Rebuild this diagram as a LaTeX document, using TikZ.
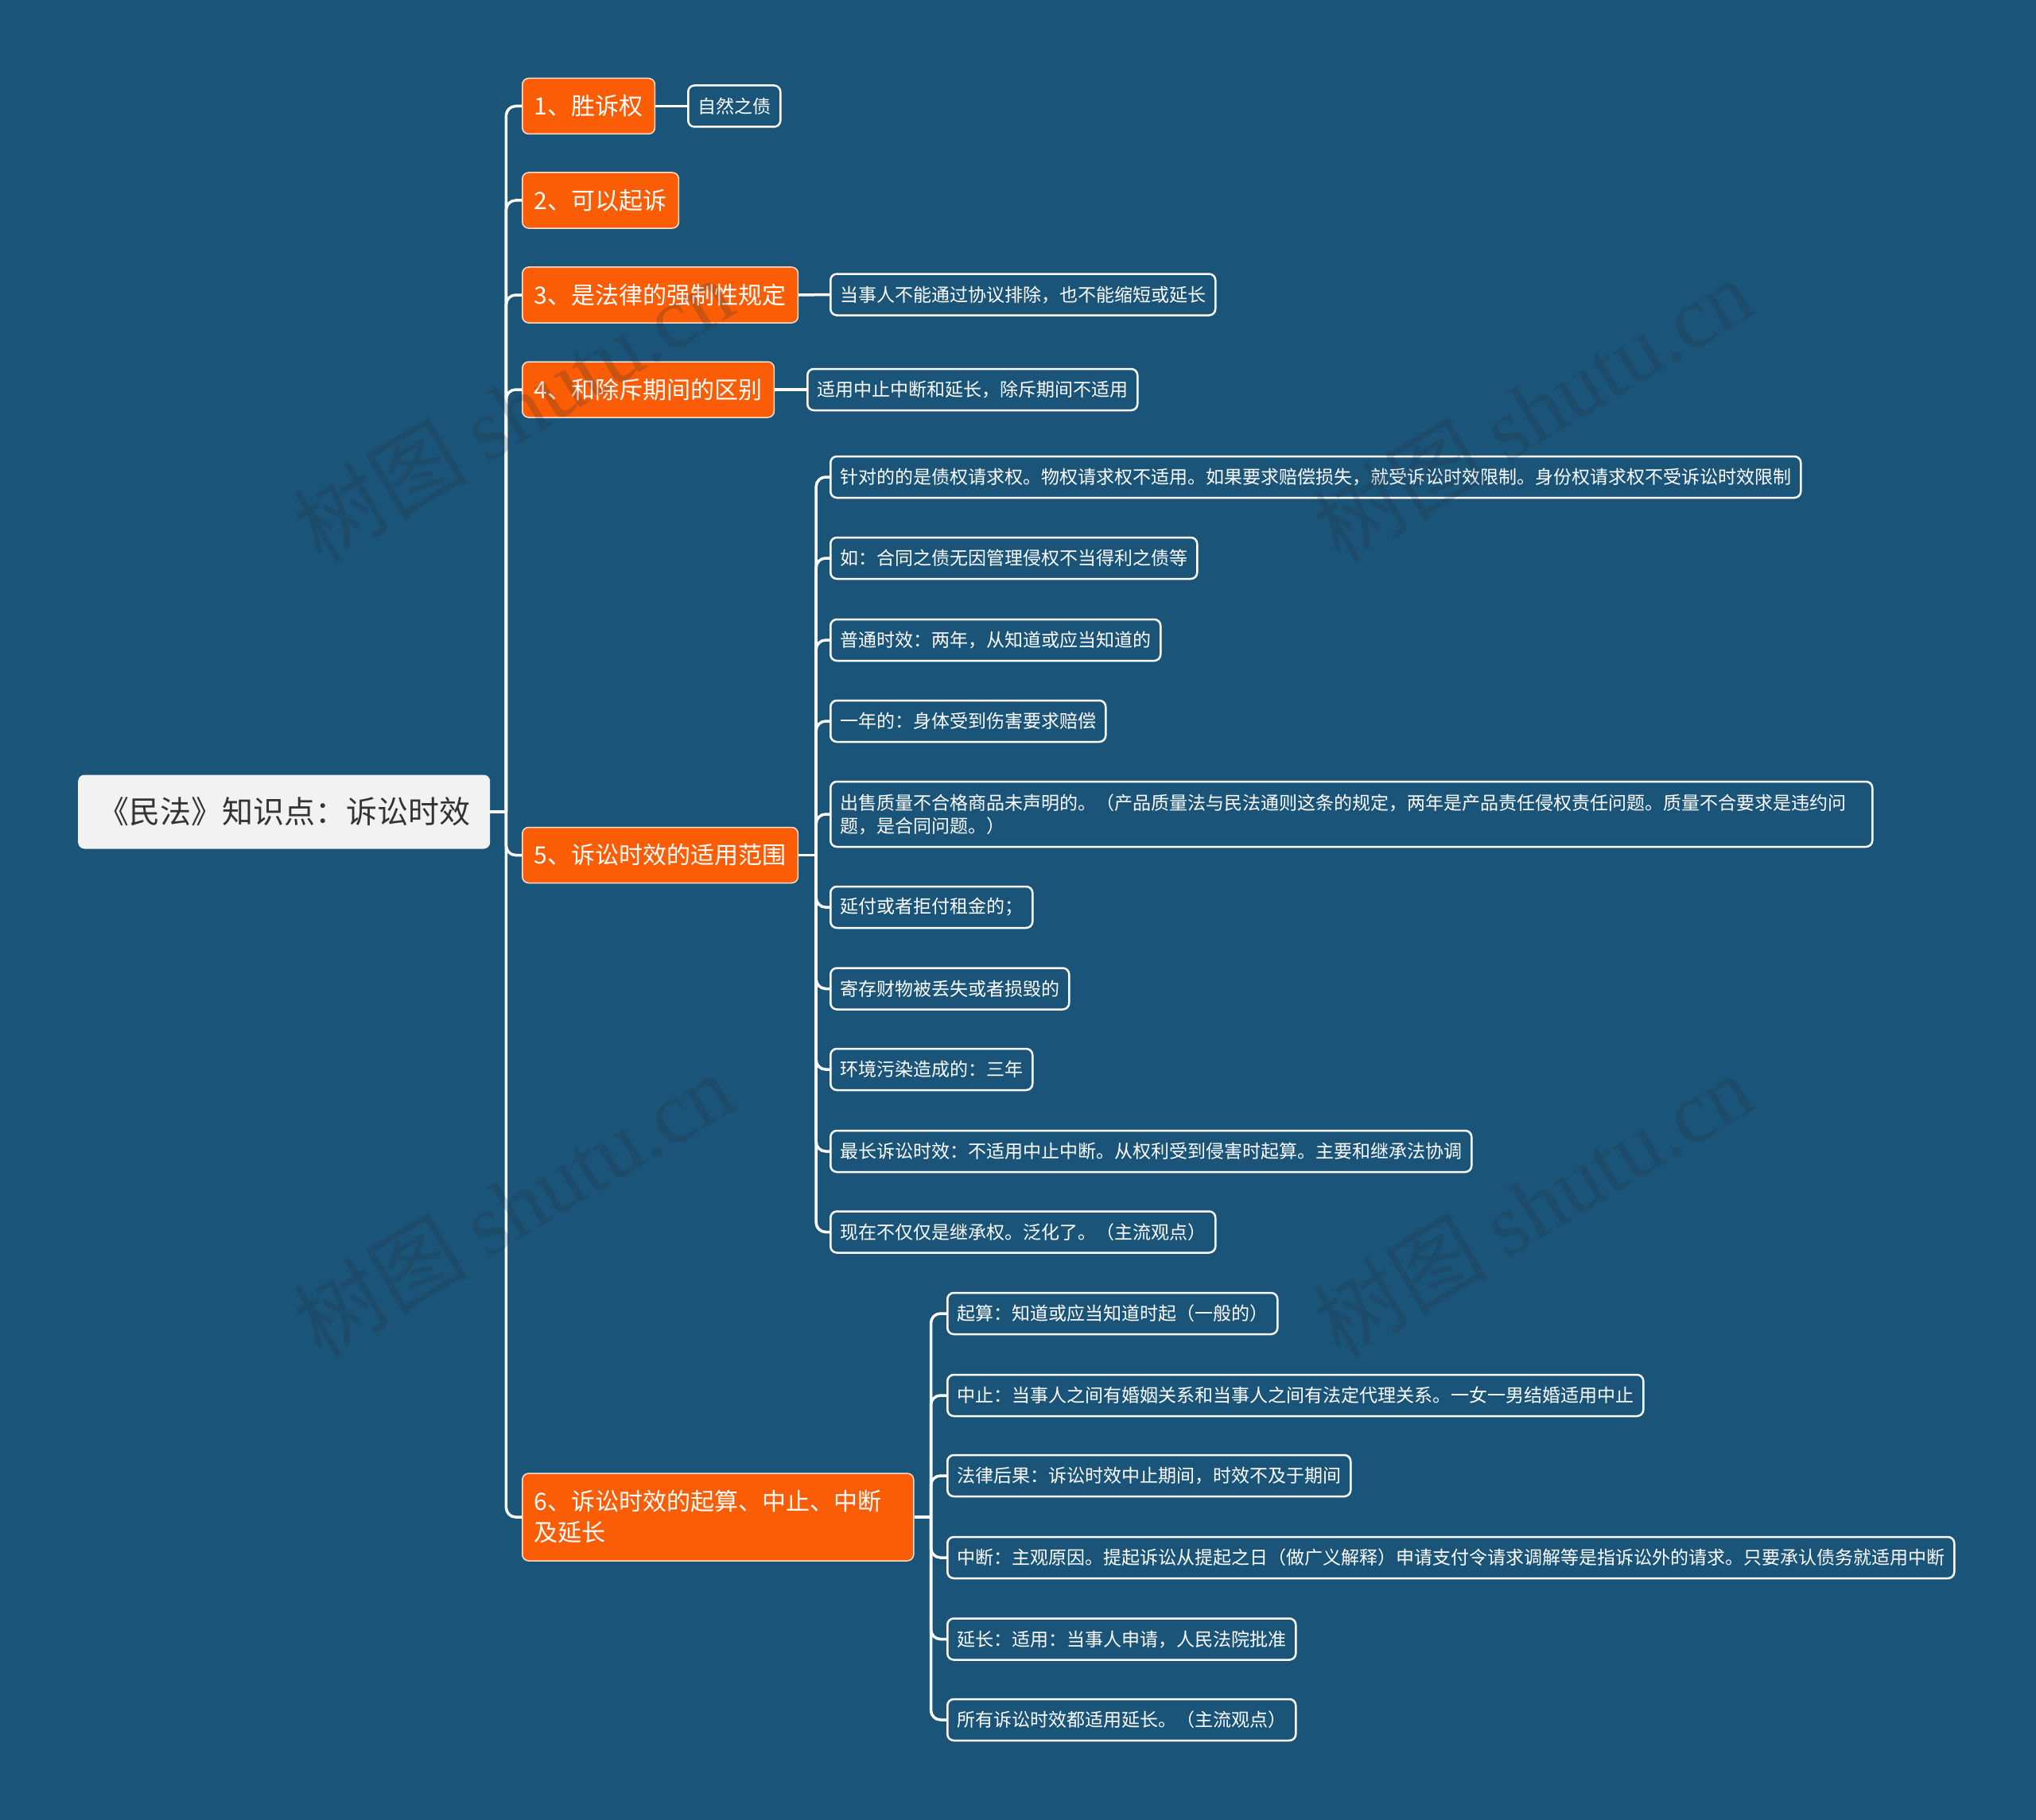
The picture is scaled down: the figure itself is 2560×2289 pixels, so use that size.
\documentclass[tikz,border=0pt]{standalone}
\usepackage{fontspec}
\setmainfont{Noto Sans CJK SC}
\newfontfamily\wmfont{Liberation Serif}
\definecolor{bgc}{RGB}{26,84,120}
\definecolor{orng}{RGB}{250,93,5}
\definecolor{rootfill}{RGB}{242,242,242}
\definecolor{roottext}{RGB}{51,51,51}
\definecolor{wmcol}{RGB}{40,48,58}
\tikzset{
  rootbox/.style={fill=rootfill, text=roottext, rounded corners=8bp, minimum height=93bp, inner xsep=25bp, font=\fontsize{39bp}{46bp}\selectfont, anchor=west},
  branchbox/.style={fill=orng, draw=white!80!orng, line width=1.5bp, text=white, rounded corners=8bp, minimum height=70bp, inner xsep=15bp, font=\fontsize{30bp}{39bp}\selectfont, anchor=west},
  leafbox/.style={draw=white, line width=2.5bp, text=white, rounded corners=8bp, minimum height=52bp, inner xsep=12bp, font=\fontsize{23bp}{29bp}\selectfont, anchor=west},
  conn/.style={draw=white, line width=3.5bp, rounded corners=12bp},
  wm/.style={text=wmcol, opacity=0.22, font=\fontsize{110bp}{110bp}\selectfont, rotate=31}
}
\begin{document}
\begin{tikzpicture}[x=1bp,y=-1bp]
\useasboundingbox[fill=bgc] (0,0) rectangle (2560,2289);

% root
\node[rootbox] (root) at (98,1021) {《民法》知识点：诉讼时效};

% branches
\node[branchbox] (b1) at (656,133.5) {1、胜诉权};
\node[branchbox] (b2) at (656,252) {2、可以起诉};
\node[branchbox] (b3) at (656,371) {3、是法律的强制性规定};
\node[branchbox] (b4) at (656,490) {4、和除斥期间的区别};
\node[branchbox] (b5) at (656,1075.5) {5、诉讼时效的适用范围};
\node[branchbox, minimum height=110bp, text width=462bp, align=left] (b6) at (656,1908) {6、诉讼时效的起算、中止、中断\\及延长};

% leaves of 1,3,4
\node[leafbox] (l1) at (864,133.5) {自然之债};
\node[leafbox] (l3) at (1043,370.5) {当事人不能通过协议排除，也不能缩短或延长};
\node[leafbox] (l4) at (1014,490) {适用中止中断和延长，除斥期间不适用};

% leaves of 5
\node[leafbox] (c1) at (1043,600) {针对的的是债权请求权。物权请求权不适用。如果要求赔偿损失，就受诉讼时效限制。身份权请求权不受诉讼时效限制};
\node[leafbox] (c2) at (1043,702) {如：合同之债无因管理侵权不当得利之债等};
\node[leafbox] (c3) at (1043,805) {普通时效：两年，从知道或应当知道的};
\node[leafbox] (c4) at (1043,907) {一年的：身体受到伤害要求赔偿};
\node[leafbox, minimum height=82bp, text width=1286bp, align=left] (c5) at (1043,1024) {出售质量不合格商品未声明的。（产品质量法与民法通则这条的规定，两年是产品责任侵权责任问题。质量不合要求是违约问\\题，是合同问题。）};
\node[leafbox] (c6) at (1043,1141) {延付或者拒付租金的；};
\node[leafbox] (c7) at (1043,1243.5) {寄存财物被丢失或者损毁的};
\node[leafbox] (c8) at (1043,1345) {环境污染造成的：三年};
\node[leafbox] (c9) at (1043,1448) {最长诉讼时效：不适用中止中断。从权利受到侵害时起算。主要和继承法协调};
\node[leafbox] (c10) at (1043,1549.5) {现在不仅仅是继承权。泛化了。（主流观点）};

% leaves of 6
\node[leafbox] (d1) at (1190,1652) {起算：知道或应当知道时起（一般的）};
\node[leafbox] (d2) at (1190,1755) {中止：当事人之间有婚姻关系和当事人之间有法定代理关系。一女一男结婚适用中止};
\node[leafbox] (d3) at (1190,1856) {法律后果：诉讼时效中止期间，时效不及于期间};
\node[leafbox] (d4) at (1190,1959) {中断：主观原因。提起诉讼从提起之日（做广义解释）申请支付令请求调解等是指诉讼外的请求。只要承认债务就适用中断};
\node[leafbox] (d5) at (1190,2061.5) {延长：适用：当事人申请，人民法院批准};
\node[leafbox] (d6) at (1190,2163) {所有诉讼时效都适用延长。（主流观点）};

% connectors: root to branches
\coordinate (T0) at ([xshift=20bp]root.east);
\draw[conn] (root.east) -- (T0);
\foreach \b in {b1,b2,b3,b4,b5,b6} {\draw[conn] (T0) |- (\b.west);}

% branch 1,3,4 leaves
\draw[conn] (b1.east) -- (l1.west);
\draw[conn] (b3.east) -- (l3.west);
\draw[conn] (b4.east) -- (l4.west);

% group 5
\coordinate (T5) at ([xshift=22bp]b5.east);
\draw[conn] (b5.east) -- (T5);
\foreach \c in {c1,c2,c3,c4,c5,c6,c7,c8,c9,c10} {\draw[conn] (T5) |- (\c.west);}

% group 6
\coordinate (T6) at ([xshift=21bp]b6.east);
\draw[conn] (b6.east) -- (T6);
\foreach \d in {d1,d2,d3,d4,d5,d6} {\draw[conn] (T6) |- (\d.west);}

% watermarks
\node[wm] (w1) at (645,515) {树图 {\wmfont shutu.cn}};
\node[wm] (w2) at (1927,515) {树图 {\wmfont shutu.cn}};
\node[wm] (w3) at (645,1515) {树图 {\wmfont shutu.cn}};
\node[wm] (w4) at (1927,1515) {树图 {\wmfont shutu.cn}};
\end{tikzpicture}
\end{document}
